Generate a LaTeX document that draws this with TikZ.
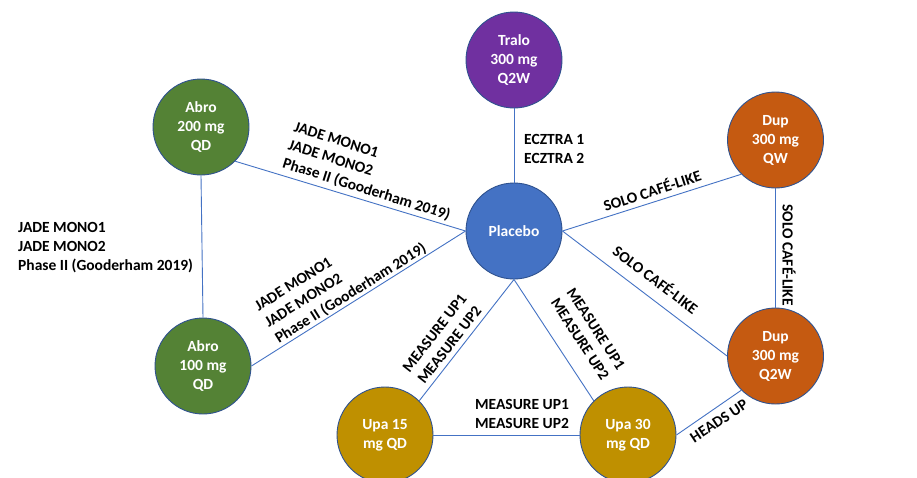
\documentclass[tikz,border=0pt]{standalone}
\usepackage{fontspec}
\setmainfont{Carlito}
\definecolor{cPurple}{HTML}{7030A0}
\definecolor{cGreen}{HTML}{548235}
\definecolor{cOrange}{HTML}{C55A11}
\definecolor{cBlue}{HTML}{4472C4}
\definecolor{cGold}{HTML}{BF9000}
\definecolor{cBorder}{HTML}{2F528F}
\definecolor{cLine}{HTML}{4472C4}
\begin{document}
\begin{tikzpicture}[x=1pt,y=-1pt,
  bubble/.style={circle, draw=cBorder, line width=0.9pt, minimum size=96pt, inner sep=0pt,
    text=white, font=\bfseries\fontsize{15.5}{19}\selectfont, align=center},
  link/.style={draw=cLine, line width=0.9pt},
  lbl/.style={font=\bfseries\fontsize{15.5}{19}\selectfont, inner sep=0pt, text=black}]
\useasboundingbox (0,0) rectangle (917,477);
\fill[white] (0,0) rectangle (917,477);

\node[bubble, fill=cPurple] (tralo) at (514,60) {Tralo\\300 mg\\Q2W};
\node[bubble, fill=cGreen] (abroA) at (201,127) {Abro\\200 mg\\QD};
\node[bubble, fill=cOrange] (dupA) at (775.5,140) {Dup\\300 mg\\QW};
\node[bubble, fill=cBlue] (placebo) at (514,231) {Placebo};
\node[bubble, fill=cGreen] (abroB) at (203,366) {Abro\\100 mg\\QD};
\node[bubble, fill=cOrange] (dupB) at (775.5,356) {Dup\\300 mg\\Q2W};
\node[bubble, fill=cGold] (upaA) at (385,435) {Upa 15\\mg QD};
\node[bubble, fill=cGold] (upaB) at (628,435) {Upa 30\\mg QD};

\draw[link] (abroA.-45) -- (placebo.west);
\draw[link] (abroB.east) -- (placebo.west);
\draw[link] (abroA.south) -- (abroB.north);
\draw[link] (tralo.south) -- (placebo.north);
\draw[link] (placebo.east) -- (dupA.-135);
\draw[link] (placebo.east) -- (dupB.west);
\draw[link] (dupA.south) -- (dupB.north);
\draw[link] (placebo.south) -- (upaA.45);
\draw[link] (placebo.south) -- (upaB.135);
\draw[link] (upaA.east) -- (upaB.west);
\draw[link] (upaB.east) -- (dupB.-135);

\node[lbl, anchor=west, align=left] (lJadeLeft) at (18,248) {JADE MONO1\\JADE MONO2\\Phase II (Gooderham 2019)};
\node[lbl, align=left, rotate=-17.5] (lJadeUp) at (372,172) {JADE MONO1\\JADE MONO2\\Phase II (Gooderham 2019)};
\node[lbl, align=left, rotate=32] (lJadeLow) at (341,278) {JADE MONO1\\JADE MONO2\\Phase II (Gooderham 2019)};
\node[lbl, anchor=west, align=left] (lEcztra) at (524,148.5) {ECZTRA 1\\ECZTRA 2};
\node[lbl, rotate=18] (lSoloA) at (652,190) {SOLO CAFÉ-LIKE};
\node[lbl, rotate=-37] (lSoloB) at (656,279) {SOLO CAFÉ-LIKE};
\node[lbl, rotate=-90] (lSoloC) at (789,255) {SOLO CAFÉ-LIKE};
\node[lbl, align=center, rotate=52] (lMeasA) at (442,339) {MEASURE UP1\\MEASURE UP2};
\node[lbl, align=center, rotate=-57] (lMeasB) at (588,334) {MEASURE UP1\\MEASURE UP2};
\node[lbl, align=center] (lMeasC) at (522,413.5) {MEASURE UP1\\MEASURE UP2};
\node[lbl, rotate=33.5] (lHeads) at (719,421) {HEADS UP};
\end{tikzpicture}
\end{document}
